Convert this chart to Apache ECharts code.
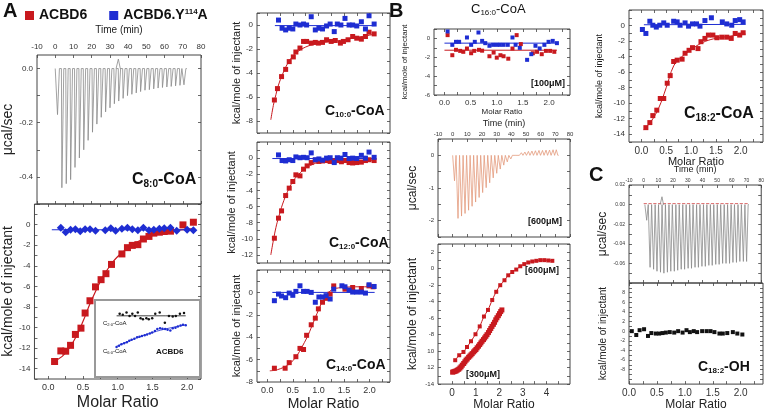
<!DOCTYPE html>
<html>
<head>
<meta charset="utf-8">
<script src="https://cdn.jsdelivr.net/npm/echarts@6/dist/echarts.min.js"></script>
<style>
  html, body { margin: 0; padding: 0; background: #fff; }
  #main { width: 767px; height: 412px; }
</style>
</head>
<body>
<div id="main"></div>
<script>
// ---------- data ----------
// A: C8:0-CoA raw trace (injection time in min, peak in ucal/sec)
var timeA = [1, 3.4, 5.8, 8.2, 10.6, 13, 15.4, 17.8, 20.2, 22.6, 25, 27.4, 29.8, 32.2, 34.6, 37, 39.4, 41.8, 44.2, 46.6, 49, 51.4, 53.8, 56.2, 58.6, 61, 63.4, 65.8, 68.2, 70.4];
var peakA = [-0.17, -0.44, -0.425, -0.41, -0.365, -0.33, -0.3, -0.265, -0.235, -0.205, -0.18, -0.16, -0.145, -0.13, -0.12, -0.11, -0.1, -0.095, -0.09, -0.085, -0.08, -0.078, -0.075, -0.072, -0.07, -0.068, -0.066, -0.064, -0.062, -0.06];
var artTimeA = [34.4], artPeakA = [0.035];

// A: C8:0-CoA isotherm
var mrA_red = [0.09, 0.18, 0.25, 0.32, 0.39, 0.47, 0.53, 0.6, 0.68, 0.76, 0.83, 0.91, 1.06, 1.14, 1.21, 1.29, 1.37, 1.45, 1.52, 1.6, 1.67, 1.76, 1.94, 2.09];
var hA_red = [-13.3, -12.27, -12.3, -11.73, -10.67, -10.06, -8.59, -7.4, -6.05, -5.35, -4.77, -3.87, -2.85, -2.24, -2.02, -1.95, -1.4, -1.15, -0.83, -0.74, -0.67, -0.64, -0.03, 0.23];
var mrA_blue = [0.18, 0.25, 0.32, 0.39, 0.46, 0.53, 0.6, 0.68, 0.82, 0.9, 0.97, 1.06, 1.14, 1.21, 1.29, 1.37, 1.45, 1.52, 1.6, 1.67, 1.76, 1.85, 2.0, 2.09];
var hA_blue = [-0.3, -0.75, -0.5, -0.45, -0.65, -0.45, -0.45, -0.6, -0.55, -0.35, -0.6, -0.4, -0.3, -0.45, -0.55, -0.3, -0.55, -0.5, -0.4, -0.35, -0.3, -0.6, -0.5, -0.55];
var fitA_x = [0.05, 0.2, 0.3, 0.4, 0.5, 0.6, 0.7, 0.8, 0.9, 1.0, 1.2, 1.4, 1.6, 1.8, 2.0, 2.1];
var fitA_red = [-13.4, -12.8, -12.0, -10.9, -9.4, -7.7, -6.2, -4.9, -3.9, -3.1, -2.0, -1.3, -0.85, -0.6, -0.45, -0.4];
var fitA_bx = [0.05, 2.1], fitA_blue = [-0.5, -0.5];

// A inset: C2:0 (black) and C6:0 (blue) with ACBD6
var mrIn_k = [0.17, 0.26, 0.37, 0.46, 0.54, 0.62, 0.7, 0.78, 0.85, 0.95, 1.02, 1.12, 1.21, 1.34, 1.49, 1.61, 1.72, 1.81, 1.93, 2.05];
var hIn_k = [0.79, 0.64, 0.99, 0.49, 0.79, 0.49, 0.99, 0.15, 0.0, 0.15, 0.0, 0.15, 0.79, 0.99, -0.5, 0.49, 0.4, 0.49, 0.79, 0.9];
var mrIn_b = [0.08, 0.15, 0.22, 0.3, 0.38, 0.45, 0.52, 0.6, 0.68, 0.75, 0.82, 0.9, 0.97, 1.05, 1.12, 1.2, 1.27, 1.35, 1.42, 1.5, 1.57, 1.65, 1.72, 1.8, 1.87, 1.95, 2.02, 2.1];
var hIn_b = [-4.0, -3.8, -3.6, -3.45, -3.3, -3.1, -2.95, -2.8, -2.6, -2.5, -2.4, -2.3, -2.2, -2.05, -1.9, -1.7, -1.4, -1.3, -1.35, -1.4, -1.5, -1.6, -1.3, -1.2, -1.05, -0.9, -0.8, -0.85];
var fitIn_x = [0.08, 0.5, 1.0, 1.5, 2.1];
var fitIn_k = [0.5, 0.5, 0.5, 0.5, 0.5];
var fitIn_b = [-3.9, -3.0, -2.1, -1.4, -0.8];

// C10:0-CoA
var mr10_red = [0.14, 0.2, 0.28, 0.36, 0.43, 0.51, 0.56, 0.64, 0.71, 0.77, 0.86, 0.94, 1.0, 1.08, 1.16, 1.25, 1.33, 1.43, 1.49, 1.58, 1.67, 1.75, 1.84, 1.92, 1.99, 2.09];
var h10_red = [-6.25, -5.3, -4.3, -3.7, -3.05, -2.66, -2.25, -1.92, -1.37, -1.37, -1.51, -1.45, -1.51, -1.45, -1.23, -1.37, -1.29, -1.51, -1.37, -1.23, -0.96, -1.1, -1.18, -0.96, -0.6, -0.74];
var mr10_blue = [0.22, 0.29, 0.36, 0.43, 0.5, 0.56, 0.64, 0.71, 0.77, 0.86, 0.94, 1.01, 1.08, 1.16, 1.23, 1.31, 1.37, 1.44, 1.52, 1.6, 1.67, 1.75, 1.84, 1.92, 1.99, 2.09];
var h10_blue = [0.41, -0.27, -0.41, -0.27, -0.33, 0.08, 0, 0.08, 0, 0.69, -0.41, -0.27, -0.33, -0.08, 0.08, -0.55, 0.08, 0, 0.55, 0, 0, -0.08, 0.27, -0.33, 0.77, 0.08];
var fit10_x = [0.07, 0.12, 0.17, 0.22, 0.3, 0.4, 0.5, 0.6, 0.8, 1.0, 1.2, 1.4, 1.6, 1.8, 2.0, 2.1];
var fit10_red = [-7.9, -6.7, -5.8, -5.0, -4.1, -3.2, -2.6, -2.2, -1.75, -1.55, -1.4, -1.3, -1.15, -1.0, -0.85, -0.75];
var fit10_bx = [0.15, 2.1], fit10_blue = [-0.05, -0.05];

// C12:0-CoA
var mr12_red = [0.14, 0.22, 0.28, 0.36, 0.43, 0.5, 0.56, 0.64, 0.71, 0.78, 0.86, 0.94, 1.01, 1.08, 1.16, 1.23, 1.31, 1.38, 1.45, 1.52, 1.6, 1.67, 1.75, 1.84, 1.92, 1.99, 2.09];
var h12_red = [-9.93, -7.44, -6.54, -4.64, -3.72, -2.9, -2.07, -2.2, -1.37, -0.96, -0.55, -0.25, -0.41, -0.35, -0.3, -0.41, -0.35, -0.3, -0.45, -0.3, -0.55, -0.6, -0.55, -0.5, -0.3, -0.2, -0.3];
var mr12_blue = [0.22, 0.29, 0.36, 0.43, 0.5, 0.56, 0.64, 0.71, 0.78, 0.86, 0.94, 1.01, 1.08, 1.16, 1.23, 1.31, 1.37, 1.44, 1.52, 1.6, 1.67, 1.75, 1.84, 1.92, 1.99, 2.09];
var h12_blue = [0.4, -0.3, -0.35, -0.2, -0.3, 0.15, 0.05, 0.1, 0.05, 0.65, -0.2, -0.1, -0.25, 0.0, 0.05, -0.55, 0.05, 0.0, 0.45, -0.05, 0.0, -0.05, 0.35, 0.0, 0.75, 0.1];
var fit12_x = [0.07, 0.12, 0.17, 0.22, 0.3, 0.4, 0.5, 0.6, 0.7, 0.8, 1.0, 1.3, 1.6, 2.1];
var fit12_red = [-12, -10.2, -8.6, -7.4, -5.7, -4.1, -2.9, -2.1, -1.5, -1.05, -0.55, -0.35, -0.3, -0.25];
var fit12_bx = [0.1, 2.1], fit12_blue = [-0.05, -0.05];

// C14:0-CoA
var mr14_red = [0.14, 0.35, 0.43, 0.56, 0.64, 0.71, 0.77, 0.86, 0.94, 1.0, 1.08, 1.15, 1.23, 1.3, 1.52, 1.67, 1.84, 1.99, 2.07];
var h14_red = [-6.77, -6.77, -6.27, -5.74, -5.0, -5.1, -3.83, -2.89, -2.3, -1.47, -0.88, -0.53, -0.15, 0.58, 0.29, 0.44, 0.35, 0.58, 0.5];
var mr14_blue = [0.14, 0.22, 0.28, 0.36, 0.43, 0.5, 0.56, 0.64, 0.71, 0.78, 0.86, 0.94, 1.01, 1.08, 1.15, 1.23, 1.3, 1.46, 1.52, 1.6, 1.67, 1.75, 1.84, 1.92, 1.99, 2.09];
var h14_blue = [-0.74, -0.15, -0.32, -0.47, -0.06, -0.26, 0.09, 0.59, 0.09, 0.09, 0, -0.88, -0.41, -0.41, -0.29, -0.59, 0.29, 0.59, 0.5, 0.21, 0.03, 0.03, 0.03, -0.06, 0.68, 0.53];
var fit14_x = [0.05, 0.2, 0.4, 0.5, 0.6, 0.7, 0.8, 0.9, 1.0, 1.1, 1.2, 1.3, 1.5, 1.8, 2.1];
var fit14_red = [-7.0, -6.9, -6.5, -6.1, -5.5, -4.7, -3.8, -2.7, -1.6, -0.6, 0.0, 0.3, 0.45, 0.5, 0.5];
var fit14_bx = [0.1, 2.1], fit14_blue = [0, 0];

// B: C16:0-CoA, 100 uM
var mr16_blue = [0.06, 0.15, 0.22, 0.28, 0.43, 0.51, 0.58, 0.65, 0.72, 0.78, 0.86, 0.93, 1.0, 1.06, 1.13, 1.21, 1.3, 1.36, 1.44, 1.58, 1.66, 1.74, 1.82, 1.91, 1.99, 2.07, 2.15];
var h16_blue = [0.74, -0.68, -0.36, -0.36, 0.1, -0.68, -0.36, 0.63, -0.26, -0.5, -0.78, -0.68, -0.68, -0.68, -0.68, -0.68, 0.1, -0.68, -1.0, -2.27, -1.67, -0.78, -1.06, -0.68, -0.36, -0.26, -0.5];
var mr16_red = [0.06, 0.15, 0.22, 0.3, 0.36, 0.43, 0.51, 0.57, 0.66, 0.72, 0.86, 0.94, 1.0, 1.07, 1.13, 1.22, 1.3, 1.38, 1.46, 1.69, 1.77, 1.86, 1.94, 2.02, 2.1];
var h16_red = [0.35, -1.78, -1.21, -1.32, -1.42, -1.07, -1.57, -1.32, -1.21, -1.3, -1.89, -1.5, -2.04, -1.78, -1.89, -2.15, -1.07, 0.35, -0.6, -1.57, -1.42, -1.67, -1.32, -1.32, -1.42];
var fit16_x = [0.0, 2.15], fit16_red = [-1.25, -1.25], fit16_blue = [-0.5, -0.5];

// B: 600 uM raw trace
var timeB = [1, 3.4, 5.8, 8.2, 10.6, 13, 15.4, 17.8, 20.2, 22.6, 25, 27.4, 29.8, 32.2, 34.6, 37, 39.4, 41.8, 44.2, 46.6, 49, 51.4, 53.8, 56.2, 58.6, 61, 63.4, 65.8, 68.2, 70.4];
var peakB = [-0.78, -1.93, -1.86, -1.78, -1.68, -1.56, -1.43, -1.29, -1.14, -0.99, -0.84, -0.69, -0.55, -0.42, -0.3, -0.2, -0.11, -0.04, 0.04, 0.08, 0.1, 0.12, 0.13, 0.14, 0.15, 0.15, 0.16, 0.16, 0.17, 0.17];

// B: isotherms at 600 uM and 300 uM
var mr600 = [0.13, 0.3, 0.48, 0.63, 0.8, 0.99, 1.17, 1.35, 1.52, 1.7, 1.87, 2.04, 2.22, 2.38, 2.55, 2.72, 2.89, 3.06, 3.23, 3.4, 3.57, 3.74, 3.91, 4.08, 4.25];
var h600 = [-11.1, -10.5, -10.1, -9.5, -8.8, -7.95, -7.0, -5.8, -5.0, -3.8, -2.8, -2.0, -1.4, -0.8, -0.4, -0.1, 0.3, 0.56, 0.76, 0.88, 0.96, 1.04, 1.04, 1.0, 0.96];
var mr300 = [0.02, 0.07, 0.12, 0.17, 0.22, 0.28, 0.33, 0.38, 0.43, 0.49, 0.54, 0.59, 0.64, 0.7, 0.75, 0.8, 0.85, 0.91, 0.96, 1.01, 1.06, 1.12, 1.17, 1.22, 1.27, 1.33, 1.38, 1.43, 1.48, 1.54, 1.59, 1.64, 1.69, 1.75, 1.8, 1.85, 1.9, 1.96, 2.01, 2.06, 2.11];
var h300 = [-12.55, -12.5, -12.45, -12.4, -12.3, -12.2, -12.05, -11.9, -11.7, -11.5, -11.3, -11.1, -10.95, -10.75, -10.6, -10.45, -10.3, -10.1, -9.95, -9.8, -9.6, -9.4, -9.2, -9.0, -8.8, -8.6, -8.4, -8.2, -8.0, -7.75, -7.5, -7.25, -7.0, -6.75, -6.5, -6.2, -5.95, -5.7, -5.45, -5.2, -5.0];

// C18:2-CoA
var mr18_red = [0.09, 0.17, 0.23, 0.31, 0.38, 0.45, 0.52, 0.58, 0.65, 0.72, 0.82, 0.88, 0.96, 1.03, 1.14, 1.2, 1.28, 1.35, 1.44, 1.52, 1.62, 1.72, 1.81, 1.89, 1.98, 2.05];
var h18_red = [-13.15, -12.5, -11.6, -10.9, -9.4, -9.4, -7.43, -6.45, -4.63, -4.46, -4.33, -3.57, -3.19, -2.85, -2.97, -2.08, -1.66, -1.23, -1.23, -1.57, -1.5, -1.5, -1.66, -1.02, -1.23, -0.93];
var mr18_blue = [0.02, 0.09, 0.17, 0.23, 0.3, 0.37, 0.45, 0.52, 0.65, 0.72, 0.78, 0.88, 0.95, 1.03, 1.11, 1.18, 1.28, 1.41, 1.63, 1.72, 1.82, 1.89, 1.98, 2.05];
var h18_blue = [-0.51, -1.02, 0.55, 0.04, -0.2, 0.04, 0.34, 0.04, 0.55, 0.47, 0.04, 0.34, -0.08, 0.21, 0.21, -0.08, 0.64, 1.0, 0.47, 0.21, 0.04, 0.64, 0.76, 0.47];
var fit18_x = [0.05, 0.2, 0.35, 0.5, 0.65, 0.8, 1.0, 1.2, 1.4, 1.6, 1.8, 2.0, 2.1];
var fit18_red = [-13.4, -12.3, -10.6, -8.0, -5.2, -4.1, -3.1, -2.3, -1.8, -1.55, -1.35, -1.2, -1.1];
var fit18_bx = [0.05, 2.1], fit18_blue = [0.1, 0.15];

// C: C18:2-OH raw trace and isotherm
var timeC = [1.8, 4.1, 6.5, 8.8, 11.2, 13.5, 15.9, 18.2, 20.6, 22.9, 25.3, 27.6, 30, 32.3, 34.7, 37, 39.4, 41.7, 44.1, 46.4, 48.8, 51.1, 53.5, 55.8, 58.2, 60.5, 62.9, 65.2, 67.6, 69.8];
var peakC = [-0.016, -0.064, -0.066, -0.068, -0.069, -0.07, -0.069, -0.068, -0.068, -0.067, -0.066, -0.066, -0.065, -0.065, -0.064, -0.064, -0.063, -0.063, -0.062, -0.062, -0.061, -0.061, -0.06, -0.06, -0.06, -0.059, -0.059, -0.058, -0.058, -0.058];
var artTimeC = [12.2], artPeakC = [0.008];
var mrC = [0.05, 0.13, 0.19, 0.27, 0.34, 0.4, 0.48, 0.54, 0.6, 0.66, 0.73, 0.81, 0.88, 0.96, 1.03, 1.09, 1.16, 1.22, 1.31, 1.39, 1.46, 1.53, 1.62, 1.68, 1.76, 1.86, 1.94, 2.03];
var hC = [0, -0.8, 0.2, 0.4, -1.0, -0.4, -0.5, -0.5, -0.4, -0.3, -0.2, -0.3, 0, -0.3, 0.2, -0.2, 0, -0.2, 0, 0, 0, -0.2, -0.5, -0.5, -0.4, -0.2, -0.5, -0.7];

// tick positions / labels
var timeTicks = [-10, 0, 10, 20, 30, 40, 50, 60, 70, 80];
var mrLabels = [0, 0.5, 1, 1.5, 2];
var mrTicks = [0, 0.25, 0.5, 0.75, 1, 1.25, 1.5, 1.75, 2, 2.25];
var mrLabelsB = [0, 1, 2, 3, 4];

// ---------- helpers ----------
var FONT = 'Liberation Sans, Arial, sans-serif';
var RED = '#c8191e', BLUE = '#1e2dd2', INK = '#222';
var grids = [], xAxes = [], yAxes = [], series = [];

function range(a, b, s) { var r = []; for (var v = a; v <= b + 1e-9; v += s) r.push(+v.toFixed(4)); return r; }
function zip(xs, ys) { return xs.map(function (x, i) { return [x, ys[i]]; }); }
function axis(gi, o) {
  return {
    gridIndex: gi, type: 'value', min: o.min, max: o.max, position: o.position,
    splitLine: { show: false }, axisLine: { show: false, onZero: false },
    axisTick: { show: true, inside: true, length: o.tickLen || 3, customValues: o.ticks || o.labels, lineStyle: { color: '#444', width: 0.8 } },
    axisLabel: o.labels ? { show: true, customValues: o.labels, fontSize: o.fs || 8, color: '#333', margin: o.margin == null ? 4 : o.margin, formatter: o.fmt, fontFamily: FONT } : { show: false },
    name: o.name || '', nameLocation: 'middle', nameGap: o.nameGap || 20,
    nameTextStyle: { fontSize: o.nameSize || 11, color: INK, fontFamily: FONT }
  };
}
function panel(box, xo, yo, border) {
  var gi = grids.length;
  grids.push({ left: box[0], top: box[1], width: box[2], height: box[3], show: true, borderColor: border || '#444', borderWidth: 1 });
  xAxes.push(axis(gi, xo));
  yAxes.push(axis(gi, yo));
  return gi;
}
// tick-only copies of each axis on the opposite side of the box
function mirrorTicks() {
  var n = grids.length;
  for (var gi = 0; gi < n; gi++) {
    var xa = xAxes[gi], ya = yAxes[gi];
    xAxes.push({ gridIndex: gi, type: 'value', min: xa.min, max: xa.max, position: xa.position === 'top' ? 'bottom' : 'top',
      splitLine: { show: false }, axisLine: { show: false, onZero: false }, axisLabel: { show: false }, axisTick: xa.axisTick });
    yAxes.push({ gridIndex: gi, type: 'value', min: ya.min, max: ya.max, position: 'right',
      splitLine: { show: false }, axisLine: { show: false, onZero: false }, axisLabel: { show: false }, axisTick: ya.axisTick });
  }
}
function scatter(gi, xs, ys, color, size, symbol, name) {
  series.push({ type: 'scatter', name: name, xAxisIndex: gi, yAxisIndex: gi, data: zip(xs, ys), symbol: symbol || 'rect', symbolSize: size, itemStyle: { color: color, opacity: 1 }, silent: true, z: 3 });
}
function line(gi, xs, ys, color, width, smooth, dash) {
  series.push({ type: 'line', xAxisIndex: gi, yAxisIndex: gi, data: zip(xs, ys), showSymbol: false, smooth: smooth ? 0.4 : false, lineStyle: { color: color, width: width || 1, type: dash || 'solid' }, silent: true, z: 2 });
}
// ITC trace: baseline, sharp spike to each recorded peak, return to baseline
function trace(gi, times, peaks, color, width) {
  var d = [[times[0] - 1, 0]];
  times.forEach(function (t, i) { d.push([t, 0], [t + 0.25, peaks[i]], [t + 1.3, 0]); });
  d.push([times[times.length - 1] + 1.8, 0]);
  series.push({ type: 'line', xAxisIndex: gi, yAxisIndex: gi, data: d, showSymbol: false, lineStyle: { color: color, width: width || 0.8 }, silent: true, z: 2 });
}
function fmt(n) { return function (v) { return v.toFixed(n); }; }
var kcal = 'kcal/mole of injectant';

// ---------- panels ----------
// A raw
var gA1 = panel([33, 55, 168, 149],
  { min: -10, max: 80, position: 'top', labels: timeTicks, fs: 8, name: 'Time (min)', nameGap: 20, nameSize: 10 },
  { min: -0.5, max: 0.05, labels: [-0.4, -0.2, 0], ticks: range(-0.5, 0, 0.1), fmt: fmt(1), fs: 8, name: 'μcal/sec', nameGap: 22, nameSize: 14 });
trace(gA1, timeA, peakA, '#8a8a8a', 0.8);
trace(gA1, artTimeA, artPeakA, '#8a8a8a', 0.8);

// A isotherm
var gA2 = panel([33, 204, 168, 177],
  { min: -0.2, max: 2.2, labels: mrLabels, ticks: mrTicks, fmt: fmt(1), fs: 9, name: 'Molar Ratio', nameGap: 16, nameSize: 16 },
  { min: -15, max: 2, labels: range(-14, 0, 2), ticks: range(-15, 2, 1), fs: 8, name: kcal, nameGap: 17, nameSize: 14 });
line(gA2, fitA_x, fitA_red, RED, 1.2, true);
line(gA2, fitA_bx, fitA_blue, BLUE, 1.2);
scatter(gA2, mrA_red, hA_red, RED, 7, 'rect', 'ACBD6');
scatter(gA2, mrA_blue, hA_blue, BLUE, 8, 'diamond', 'ACBD6.Y114A');

// A inset
var gIn = panel([107, 304, 89, 57],
  { min: -0.2, max: 2.4, labels: mrLabels, fmt: fmt(1), fs: 4, margin: 2, name: 'Molar Ratio', nameGap: 7, nameSize: 5 },
  { min: -6, max: 2.2, labels: [-6, -4, -2, 0], fs: 4, margin: 2 }, '#888');
line(gIn, fitIn_x, fitIn_k, '#111', 0.8);
line(gIn, fitIn_x, fitIn_b, BLUE, 0.8, true);
scatter(gIn, mrIn_k, hIn_k, '#111', 2.5, 'circle');
scatter(gIn, mrIn_b, hIn_b, BLUE, 2.5, 'circle');

// C10:0
var g10 = panel([257, 13, 133, 120],
  { min: -0.2, max: 2.4, ticks: mrTicks },
  { min: -9, max: 1, labels: [-8, -6, -4, -2, 0], ticks: range(-9, 1, 1), fs: 8, name: kcal, nameGap: 15, nameSize: 11 });
line(g10, fit10_x, fit10_red, RED, 1, true);
line(g10, fit10_bx, fit10_blue, BLUE, 1);
scatter(g10, mr10_red, h10_red, RED, 5);
scatter(g10, mr10_blue, h10_blue, BLUE, 5);

// C12:0
var g12 = panel([257, 142, 133, 121],
  { min: -0.2, max: 2.4, ticks: mrTicks },
  { min: -13, max: 2, labels: range(-12, 0, 2), ticks: range(-13, 2, 1), fs: 8, name: kcal, nameGap: 15, nameSize: 11 });
line(g12, fit12_x, fit12_red, RED, 1, true);
line(g12, fit12_bx, fit12_blue, BLUE, 1);
scatter(g12, mr12_red, h12_red, RED, 5);
scatter(g12, mr12_blue, h12_blue, BLUE, 5);

// C14:0
var g14 = panel([257, 270, 133, 114],
  { min: -0.2, max: 2.4, labels: mrLabels, ticks: mrTicks, fmt: fmt(1), fs: 9, name: 'Molar Ratio', nameGap: 15, nameSize: 14 },
  { min: -8, max: 2, labels: [-8, -6, -4, -2, 0], ticks: range(-8, 2, 1), fs: 8, name: kcal, nameGap: 15, nameSize: 11 });
line(g14, fit14_x, fit14_red, RED, 1, true);
line(g14, fit14_bx, fit14_blue, BLUE, 1);
scatter(g14, mr14_red, h14_red, RED, 5);
scatter(g14, mr14_blue, h14_blue, BLUE, 5);

// B C16:0 100 uM
var g16 = panel([434, 29, 136, 66],
  { min: -0.2, max: 2.4, labels: mrLabels, ticks: mrTicks, fmt: fmt(1), fs: 8, name: 'Molar Ratio', nameGap: 13, nameSize: 8 },
  { min: -6, max: 1, labels: [-6, -4, -2, 0], ticks: range(-6, 1, 1), fs: 6, name: kcal, nameGap: 25, nameSize: 8 });
line(g16, fit16_x, fit16_red, RED, 1);
line(g16, fit16_x, fit16_blue, BLUE, 1);
scatter(g16, mr16_red, h16_red, RED, 4);
scatter(g16, mr16_blue, h16_blue, BLUE, 4);

// B raw 600 uM
var gB1 = panel([438, 139, 132, 98],
  { min: -10, max: 80, position: 'top', labels: timeTicks, fs: 6, margin: 2, name: 'Time (min)', nameGap: 11, nameSize: 9 },
  { min: -2.5, max: 0.5, labels: [-2, -1, 0], ticks: range(-2.5, 0.5, 0.5), fs: 6, name: 'μcal/sec', nameGap: 19, nameSize: 12 });
trace(gB1, timeB, peakB, '#e39a7c', 0.8);

// B isotherms
var gB2 = panel([438, 244, 132, 143],
  { min: -0.6, max: 5.0, labels: mrLabelsB, ticks: range(0, 4.5, 0.5), fs: 10, name: 'Molar Ratio', nameGap: 13, nameSize: 12 },
  { min: -14, max: 3, labels: range(-14, 2, 2), ticks: range(-14, 3, 1), fs: 6, name: kcal, nameGap: 19, nameSize: 12,
    fmt: function (v) { return (v === -10 || v === -12) ? String(-v) : String(v); } });
line(gB2, mr600, h600, RED, 1, true);
scatter(gB2, mr600, h600, RED, 4);
scatter(gB2, mr300, h300, RED, 5);

// C18:2-CoA
var g18 = panel([629, 10, 134, 132],
  { min: -0.25, max: 2.45, labels: mrLabels, ticks: mrTicks, fmt: fmt(1), fs: 10, name: 'Molar Ratio', nameGap: 12, nameSize: 11 },
  { min: -15, max: 2, labels: range(-14, 0, 2), ticks: range(-15, 2, 1), fs: 8, name: kcal, nameGap: 25, nameSize: 9 });
line(g18, fit18_x, fit18_red, RED, 1, true);
line(g18, fit18_bx, fit18_blue, BLUE, 1);
scatter(g18, mr18_red, h18_red, RED, 5);
scatter(g18, mr18_blue, h18_blue, BLUE, 5);

// C raw
var gC1 = panel([629, 185, 134, 98],
  { min: -10, max: 80, position: 'top', labels: timeTicks, fs: 5, margin: 2, name: 'Time (min)', nameGap: 11, nameSize: 9 },
  { min: -0.08, max: 0.02, labels: [-0.06, -0.04, -0.02, 0, 0.02], ticks: range(-0.08, 0.02, 0.01), fmt: fmt(2), fs: 5, name: 'μcal/sec', nameGap: 20, nameSize: 12 });
line(gC1, [0, 71], [0.001, 0.001], '#d04040', 0.8, false, 'dashed');
trace(gC1, timeC, peakC, '#8a8a8a', 0.8);
trace(gC1, artTimeC, artPeakC, '#8a8a8a', 0.8);

// C isotherm
var gC2 = panel([629, 283, 134, 103],
  { min: 0, max: 2.4, labels: mrLabels, ticks: mrTicks, fmt: fmt(1), fs: 10, name: 'Molar Ratio', nameGap: 12, nameSize: 12 },
  { min: -11, max: 10, labels: range(-8, 8, 2), ticks: range(-10, 10, 1), fs: 5, name: kcal, nameGap: 21, nameSize: 10 });
scatter(gC2, mrC, hC, '#111', 4);

mirrorTicks();

// ---------- text annotations ----------
function rt(fs) {
  var base = { fontSize: fs, fontWeight: 'bold', fontFamily: FONT, fill: '#111' };
  return {
    b: base,
    s: Object.assign({}, base, { fontSize: Math.round(fs * 0.6), padding: [Math.round(fs * 0.55), 0, 0, 0] })
  };
}
function label(x, y, text, fs, weight) {
  var r = rt(fs);
  if (weight) { r.b.fontWeight = weight; r.s.fontWeight = weight; }
  return { type: 'text', left: x, top: y, z: 10, style: { text: text, rich: r, fontSize: fs, fontFamily: FONT, fill: '#111' } };
}
var graphics = [
  { type: 'rect', shape: { x: 95, y: 300, width: 105, height: 77 }, style: { fill: '#fff', stroke: '#999', lineWidth: 2 }, z: 1 },
  label(3, 1, '{b|A}', 20),
  label(389, 1, '{b|B}', 20),
  label(589, 165, '{b|C}', 20),
  label(132, 172, '{b|C}{s|8:0}{b|-CoA}', 16),
  label(325, 104, '{b|C}{s|10:0}{b|-CoA}', 14),
  label(329, 236, '{b|C}{s|12:0}{b|-CoA}', 14),
  label(326, 358, '{b|C}{s|14:0}{b|-CoA}', 14),
  label(471, 3, '{b|C}{s|16:0}{b|-CoA}', 13, 'normal'),
  label(684, 106, '{b|C}{s|18:2}{b|-CoA}', 16),
  label(698, 360, '{b|C}{s|18:2}{b|-OH}', 14),
  label(531, 79, '{b|[100μM]}', 9),
  label(528, 217, '{b|[600μM]}', 9),
  label(525, 266, '{b|[600μM]}', 9),
  label(466, 370, '{b|[300μM]}', 9),
  label(103, 320, '{b|C}{s|2:0}{b|-CoA}', 6, 'normal'),
  label(103, 348, '{b|C}{s|6:0}{b|-CoA}', 6, 'normal'),
  label(156, 348, '{b|ACBD6}', 8)
];

var chart = echarts.init(document.getElementById('main'), null, { renderer: 'canvas' });
chart.setOption({
  animation: false,
  backgroundColor: '#fff',
  textStyle: { fontFamily: FONT },
  legend: {
    left: 20, top: 3, itemWidth: 9, itemHeight: 9, itemGap: 22, icon: 'rect',
    data: ['ACBD6', 'ACBD6.Y114A'], selectedMode: false,
    formatter: function (n) { return n === 'ACBD6' ? '{n|ACBD6}' : '{n|ACBD6.Y}{u|114}{n|A}'; },
    textStyle: {
      color: '#111', fontFamily: FONT,
      rich: { n: { fontSize: 14, fontWeight: 'bold', color: '#111' }, u: { fontSize: 8, fontWeight: 'bold', color: '#111', padding: [0, 0, 7, 0] } }
    }
  },
  grid: grids, xAxis: xAxes, yAxis: yAxes, series: series, graphic: graphics
});
</script>
</body>
</html>
